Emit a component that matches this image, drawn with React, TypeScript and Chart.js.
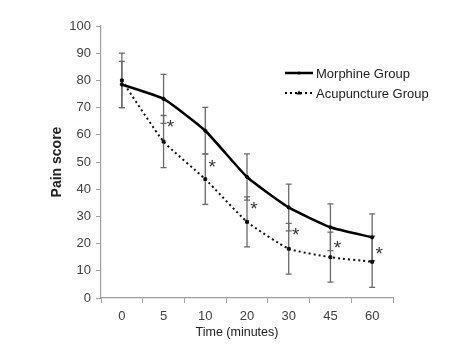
import React, { useEffect, useRef } from "react";
import { Chart, registerables } from "chart.js";

Chart.register(...registerables);

const categories = ["0", "5", "10", "20", "30", "45", "60"];
const morphine = [78.5, 73.2, 61.5, 44.5, 33.3, 26, 22.3];
const morphineSD = [8.5, 9, 8.6, 8.5, 8.6, 8.6, 8.6];
const acupuncture = [80, 57.5, 43.7, 28, 18.1, 15, 13.3];
const acupunctureSD = [10, 9.6, 9.3, 9.2, 9.3, 9.2, 9.4];
const asteriskY: (number | null)[] = [null, 64, 49.5, 34, 24.5, 19.8, 17.6];
const yTicks = [0, 10, 20, 30, 40, 50, 60, 70, 80, 90, 100];
const seriesNames = ["Morphine Group", "Acupuncture Group"];

const FONT = "'Liberation Sans', Arial, sans-serif";

const overlayPlugin = {
  id: "overlay",
  beforeDatasetsDraw(chart: any) {
    const ctx = chart.ctx;
    const y = chart.scales.y;
    const sds = [morphineSD, acupunctureSD];
    ctx.save();
    ctx.strokeStyle = "#6a6a6a";
    ctx.lineWidth = 1.3;
    chart.data.datasets.forEach((ds: any, di: number) => {
      const meta = chart.getDatasetMeta(di);
      meta.data.forEach((pt: any, i: number) => {
        const v = ds.data[i];
        const sd = sds[di][i];
        const yt = y.getPixelForValue(v + sd);
        const yb = y.getPixelForValue(v - sd);
        const x = pt.x;
        ctx.beginPath();
        ctx.moveTo(x, yt);
        ctx.lineTo(x, yb);
        ctx.moveTo(x - 3, yt);
        ctx.lineTo(x + 3, yt);
        ctx.moveTo(x - 3, yb);
        ctx.lineTo(x + 3, yb);
        ctx.stroke();
      });
    });
    ctx.restore();
  },
  afterDraw(chart: any) {
    const ctx = chart.ctx;
    const xs = chart.scales.x;
    const ys = chart.scales.y;
    ctx.save();
    // asterisks
    ctx.fillStyle = "#333";
    ctx.font = `19px ${FONT}`;
    ctx.textAlign = "center";
    ctx.textBaseline = "alphabetic";
    const m = ctx.measureText("*");
    const off = (m.actualBoundingBoxAscent - m.actualBoundingBoxDescent) / 2;
    asteriskY.forEach((v, i) => {
      if (v == null) return;
      const px = xs.getPixelForValue(i) + 7;
      const py = ys.getPixelForValue(v);
      ctx.fillText("*", px, py + off);
    });
    // axis titles
    ctx.fillStyle = "#222";
    ctx.font = `12.5px ${FONT}`;
    ctx.textBaseline = "middle";
    ctx.fillText("Time (minutes)", 237, 333);
    ctx.save();
    ctx.translate(57.5, (chart.chartArea.top + chart.chartArea.bottom) / 2);
    ctx.rotate(-Math.PI / 2);
    ctx.font = `bold 14px ${FONT}`;
    ctx.fillText("Pain score", 0, 0);
    ctx.restore();
    // legend
    const rows = [
      { y: 73, dash: [] as number[], w: 2.5, style: "circle" },
      { y: 93, dash: [2, 3], w: 2, style: "triangle" },
    ];
    rows.forEach((r, i) => {
      ctx.strokeStyle = "#000";
      ctx.lineWidth = r.w;
      ctx.setLineDash(r.dash);
      ctx.beginPath();
      ctx.moveTo(285, r.y);
      ctx.lineTo(313, r.y);
      ctx.stroke();
      ctx.setLineDash([]);
      ctx.fillStyle = "#000";
      ctx.beginPath();
      if (r.style === "circle") {
        ctx.arc(299, r.y, 1.6, 0, Math.PI * 2);
      } else {
        ctx.moveTo(299, r.y - 2.5);
        ctx.lineTo(301.5, r.y + 1.5);
        ctx.lineTo(296.5, r.y + 1.5);
        ctx.closePath();
      }
      ctx.fill();
      ctx.fillStyle = "#222";
      ctx.font = `13px ${FONT}`;
      ctx.textAlign = "left";
      ctx.textBaseline = "middle";
      ctx.fillText(seriesNames[i], 316, r.y + 1);
    });
    ctx.restore();
  },
};

export default function App() {
  const ref = useRef<HTMLCanvasElement>(null);
  useEffect(() => {
    if (!ref.current) return;
    const chart = new Chart(ref.current, {
      type: "line",
      data: {
        labels: categories,
        datasets: [
          {
            label: seriesNames[0],
            data: morphine,
            borderColor: "#000",
            backgroundColor: "#000",
            borderWidth: 2.5,
            pointStyle: "circle",
            pointRadius: 1.6,
            pointBorderWidth: 1,
            tension: 0.15,
          },
          {
            label: seriesNames[1],
            data: acupuncture,
            borderColor: "#111",
            backgroundColor: "#111",
            borderWidth: 2,
            borderDash: [2, 3],
            pointStyle: "rect",
            pointRadius: 2,
            pointBorderWidth: 1,
            tension: 0.15,
          },
        ],
      },
      options: {
        responsive: false,
        animation: false,
        layout: { padding: { left: 0, top: 26, right: 78, bottom: 0 } },
        plugins: { legend: { display: false }, tooltip: { enabled: false } },
        scales: {
          x: {
            type: "category",
            offset: true,
            grid: {
              offset: true,
              drawOnChartArea: false,
              drawTicks: true,
              tickLength: 5,
              color: "#a0a0a0",
            },
            border: { color: "#a0a0a0", width: 1.2 },
            ticks: {
              color: "#404040",
              font: { family: FONT, size: 13 },
              padding: 6,
              maxRotation: 0,
            },
            afterFit: (s: any) => {
              s.height = 57;
            },
          },
          y: {
            min: 0,
            max: 100,
            afterBuildTicks: (s: any) => {
              s.ticks = yTicks.map((v) => ({ value: v }));
            },
            grid: {
              drawOnChartArea: false,
              drawTicks: true,
              tickLength: 5,
              color: "#a0a0a0",
            },
            border: { color: "#a0a0a0", width: 1.2 },
            ticks: {
              color: "#404040",
              font: { family: FONT, size: 13 },
              padding: 5,
            },
            afterFit: (s: any) => {
              s.width = 101;
            },
          },
        },
      },
      plugins: [overlayPlugin],
    });
    return () => chart.destroy();
  }, []);
  return (
    <div style={{ position: "fixed", left: 0, top: 0, width: 471, height: 355, background: "#fff" }}>
      <canvas ref={ref} width={471} height={355} style={{ display: "block" }} />
    </div>
  );
}
